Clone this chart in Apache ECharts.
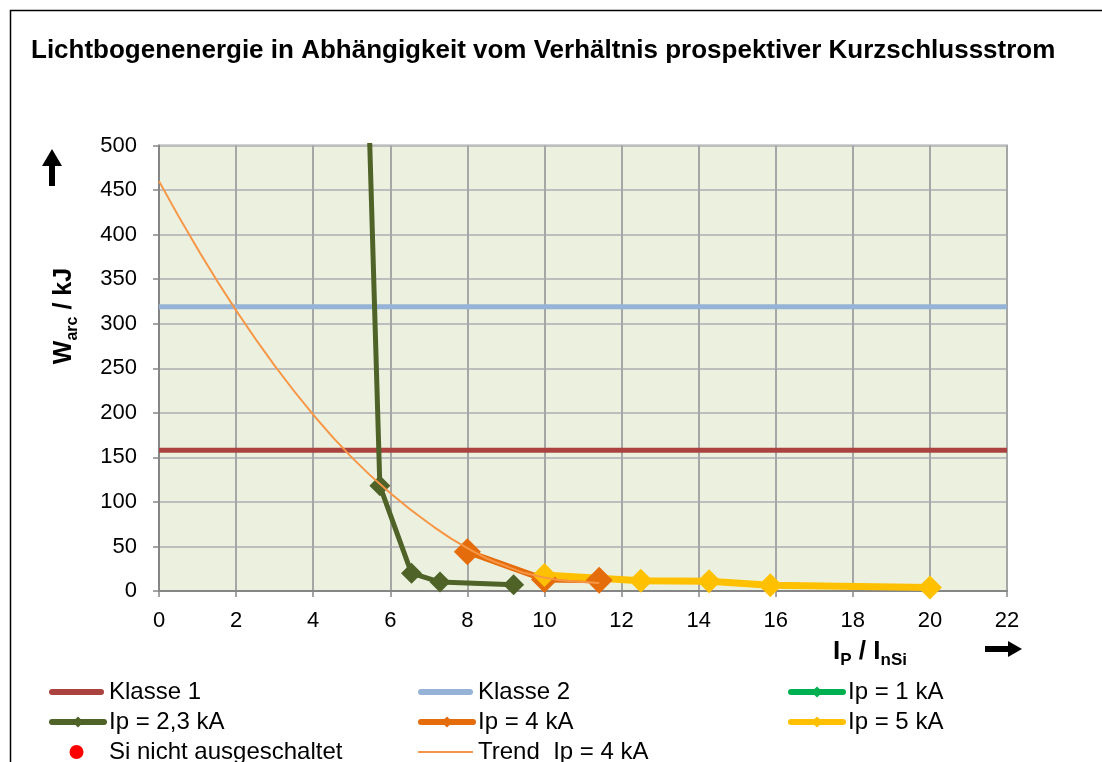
<!DOCTYPE html>
<html>
<head>
<meta charset="utf-8">
<script src="https://cdn.jsdelivr.net/npm/echarts@6/dist/echarts.min.js"></script>
<style>
  html, body { margin: 0; padding: 0; background: #fff; }
  #chart { width: 1102px; height: 762px; }
</style>
</head>
<body>
<div id="chart"></div>
<script>
// values
const xTicks = [0, 22];
const klasse1 = 158;
const klasse2 = 319;

const ip1X = [];
const ip1Y = [];
const ip23X = [5.4, 5.73, 6.55, 7.29, 9.2];
const ip23Y = [600, 118, 20, 10, 7];
const ip4X = [8, 10, 11.42];
const ip4Y = [44, 13, 12];
const ip5X = [10, 12.5, 14.27, 15.86, 20];
const ip5Y = [18, 11.5, 11, 6.5, 4];
const siX = [];
const siY = [];
const trendX = [0, 1, 2, 3, 4, 5, 6, 7, 8, 9, 10, 11, 11.42];
const trendY = [460, 384, 315, 253, 198, 150, 110, 76, 48, 28, 15, 10, 9];

const pairs = (xs, ys) => xs.map((x, i) => [x, ys[i]]);

const FONT = '"Liberation Sans", Arial, sans-serif';

// legend icons for the entries without diamond markers
const thickBar = 'path://M3,0 L52,0 A3,3 0 0 1 52,6 L3,6 A3,3 0 0 1 3,0 Z';
const thinBar = 'path://M0,0 L55,0 L55,2 L0,2 Z';
const dotIcon = 'path://M0,0 M55,14 M20.5,7 A7,7 0 1 1 34.5,7 A7,7 0 1 1 20.5,7 Z';

const chart = echarts.init(document.getElementById('chart'));

const diamondLine = (name, color, xs, ys, width, size) => ({
  name: name,
  type: 'line',
  data: pairs(xs, ys),
  symbol: 'diamond',
  symbolSize: size,
  showSymbol: true,
  lineStyle: { color: color, width: width },
  itemStyle: { color: color },
  z: 3,
});

// one legend per entry so the three columns line up like the original
const legendCols = [49, 418, 788];
const legendRows = [680, 710, 740];
const legendItem = (col, row, item, w) => ({
  left: legendCols[col],
  top: legendRows[row],
  orient: 'horizontal',
  padding: 0,
  itemWidth: w || 55,
  itemHeight: 14,
  lineStyle: { width: 6, cap: 'round' },
  textStyle: { fontSize: 24, fontFamily: FONT, color: '#000', lineHeight: 22 },
  data: [item],
});

const option = {
  animation: false,
  backgroundColor: '#fff',
  textStyle: { fontFamily: FONT },
  title: {
    text: 'Lichtbogenenergie in Abhängigkeit vom Verhältnis prospektiver Kurzschlussstrom',
    left: 31,
    top: 38,
    padding: 0,
    textStyle: { fontFamily: FONT, fontSize: 26, fontWeight: 'bold', color: '#000' },
  },
  grid: {
    left: 159,
    right: 95,
    top: 145.5,
    bottom: 171,
    show: true,
    backgroundColor: '#EBF1DE',
    borderColor: '#A6A6A6',
    borderWidth: 2,
  },
  xAxis: {
    type: 'value',
    min: xTicks[0],
    max: xTicks[1],
    interval: 2,
    axisLine: { show: true, lineStyle: { color: '#868686', width: 2 } },
    axisTick: { show: true, inside: false, length: 6, lineStyle: { color: '#868686', width: 1.5 } },
    axisLabel: { color: '#000', fontSize: 22, fontFamily: FONT, margin: 19 },
    splitLine: { show: true, lineStyle: { color: '#A6A6A6', width: 2 } },
  },
  yAxis: {
    type: 'value',
    min: 0,
    max: 500,
    interval: 50,
    axisLine: { show: true, lineStyle: { color: '#868686', width: 2 } },
    axisTick: { show: true, inside: false, length: 6, lineStyle: { color: '#868686', width: 1.5 } },
    axisLabel: { color: '#000', fontSize: 22, fontFamily: FONT, margin: 22 },
    splitLine: { show: true, lineStyle: { color: '#BDBDBD', width: 2 } },
  },
  legend: [
    legendItem(0, 0, { name: 'Klasse 1', icon: thickBar }),
    legendItem(1, 0, { name: 'Klasse 2', icon: thickBar }),
    legendItem(2, 0, 'Ip = 1 kA', 52),
    legendItem(0, 1, 'Ip = 2,3 kA', 52),
    legendItem(1, 1, 'Ip = 4 kA', 52),
    legendItem(2, 1, 'Ip = 5 kA', 52),
    legendItem(0, 2, { name: 'Si nicht ausgeschaltet', icon: dotIcon }),
    legendItem(1, 2, { name: 'Trend  Ip = 4 kA', icon: thinBar }),
  ],
  series: [
    {
      name: 'Klasse 1',
      type: 'line',
      data: pairs(xTicks, [klasse1, klasse1]),
      symbol: 'none',
      lineStyle: { color: '#AA4240', width: 5 },
      itemStyle: { color: '#AA4240' },
      z: 2,
    },
    {
      name: 'Klasse 2',
      type: 'line',
      data: pairs(xTicks, [klasse2, klasse2]),
      symbol: 'none',
      lineStyle: { color: '#95B3D7', width: 5 },
      itemStyle: { color: '#95B3D7' },
      z: 2,
    },
    diamondLine('Ip = 1 kA', '#00B050', ip1X, ip1Y, 5, 20),
    diamondLine('Ip = 2,3 kA', '#4F6228', ip23X, ip23Y, 5, 21),
    diamondLine('Ip = 4 kA', '#E46C0A', ip4X, ip4Y, 6, 27),
    diamondLine('Ip = 5 kA', '#FFC000', ip5X, ip5Y, 7, 24),
    {
      name: 'Si nicht ausgeschaltet',
      type: 'scatter',
      data: pairs(siX, siY),
      symbol: 'circle',
      symbolSize: 12,
      itemStyle: { color: '#FF0000', opacity: 1 },
    },
    {
      name: 'Trend  Ip = 4 kA',
      type: 'line',
      data: pairs(trendX, trendY),
      smooth: true,
      symbol: 'none',
      lineStyle: { color: '#F79646', width: 2 },
      itemStyle: { color: '#F79646' },
      z: 4,
    },
  ],
  graphic: [
    // outer frame
    {
      type: 'rect',
      shape: { x: 10.5, y: 10.5, width: 1300, height: 1000 },
      style: { fill: null, stroke: '#000', lineWidth: 1.5 },
      silent: true,
    },
    // y axis name
    {
      type: 'text',
      x: 66,
      y: 316,
      rotation: Math.PI / 2,
      style: {
        text: '{b|W}{s|arc}{b| / kJ}',
        align: 'center',
        verticalAlign: 'middle',
        rich: {
          b: { fontSize: 25, fontWeight: 'bold', fontFamily: FONT, verticalAlign: 'top', lineHeight: 26, fill: '#000' },
          s: { fontSize: 16, fontWeight: 'bold', fontFamily: FONT, verticalAlign: 'top', padding: [13, 0, 0, 0], fill: '#000' },
        },
      },
    },
    // x axis name
    {
      type: 'text',
      x: 870,
      y: 654,
      style: {
        text: '{b|I}{s|P}{b| / I}{s|nSi}',
        align: 'center',
        verticalAlign: 'middle',
        rich: {
          b: { fontSize: 26, fontWeight: 'bold', fontFamily: FONT, verticalAlign: 'top', lineHeight: 26, fill: '#000' },
          s: { fontSize: 17, fontWeight: 'bold', fontFamily: FONT, verticalAlign: 'top', padding: [13, 0, 0, 0], fill: '#000' },
        },
      },
    },
    // up arrow
    {
      type: 'polygon',
      shape: { points: [[49, 186], [55, 186], [55, 166], [62, 166], [52, 149], [42, 166], [49, 166]] },
      style: { fill: '#000' },
    },
    // right arrow
    {
      type: 'polygon',
      shape: { points: [[985, 646], [1008, 646], [1008, 641], [1022, 649], [1008, 657], [1008, 652], [985, 652]] },
      style: { fill: '#000' },
    },
  ],
};

chart.setOption(option);
</script>
</body>
</html>
